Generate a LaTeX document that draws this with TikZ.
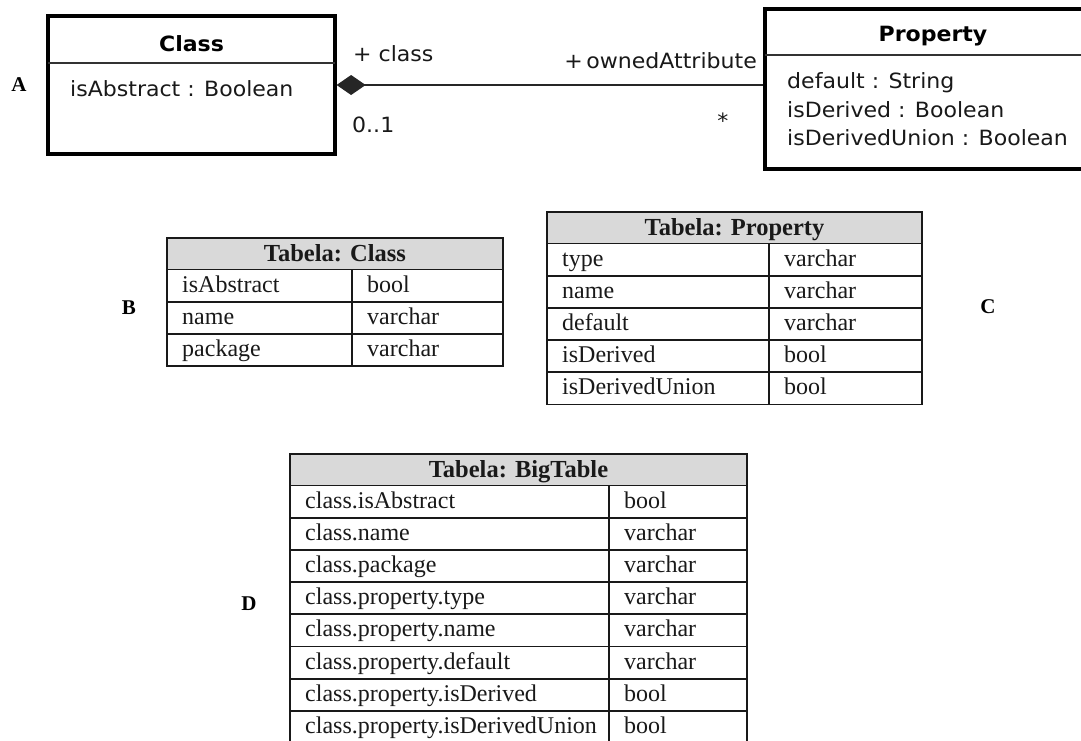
\documentclass[tikz,border=0pt]{standalone}
\usepackage{fontspec}
\setmainfont{Liberation Serif}
\newfontfamily\umlfont[FakeStretch=1.05]{DejaVu Sans}
\usetikzlibrary{arrows.meta}

% one database table: name, left, right, column x, top, number of rows, title, rows
\newcommand{\dbtable}[8]{%
  \pgfmathsetmacro\tbot{#5+31.5+#6*32.2}
  \fill[headfill] (#2,#5) rectangle (#3,#5+31.5);
  \node[hdr, anchor=base] (#1-title) at ({(#2+#3)/2}, #5+23) {#7};
  \foreach [count=\i] \a/\b in {#8} {
    \node[cell, anchor=base west] (#1-k\i) at (#2+15, {#5+31.5+(\i-1)*32.2+22.5}) {\a};
    \node[cell, anchor=base west] (#1-t\i) at (#4+15, {#5+31.5+(\i-1)*32.2+22.5}) {\b};
    \draw[grid] (#2, {#5+31.5+\i*32.2}) -- (#3, {#5+31.5+\i*32.2});
  }
  \draw[grid] (#2,#5+31.5) -- (#3,#5+31.5);
  \draw[grid] (#4,#5+31.5) -- (#4,\tbot);
  \draw[grid] (#2,#5) rectangle (#3,\tbot);
}

\begin{document}
\begin{tikzpicture}[x=1pt, y=-1pt,
  umlbox/.style={draw=black, line width=3.2pt, fill=white, inner sep=0pt},
  divider/.style={draw=black!80, line width=1.5pt},
  uml/.style={font=\umlfont\fontsize{21}{25}\selectfont, inner sep=0pt, text=black!90},
  umlbold/.style={font=\umlfont\bfseries\fontsize{21}{25}\selectfont, inner sep=0pt, text=black},
  assoc/.style={draw=black!85, line width=1.5pt},
  headfill/.style={fill=black!15},
  grid/.style={draw=black!90, line width=1.7pt},
  hdr/.style={font=\bfseries\fontsize{24.5}{28}\selectfont, inner sep=0pt, text=black!90},
  cell/.style={font=\fontsize{24}{28}\selectfont, inner sep=0pt, text=black!90},
  tag/.style={font=\bfseries\fontsize{21}{25}\selectfont, inner sep=0pt, text=black}]

\useasboundingbox (0,0) rectangle (1081,740);
\fill[white] (0,0) rectangle (1081,740);
\clip (0,0) rectangle (1081,740);

% ---- UML class diagram ----
\node[umlbox, minimum width=287pt, minimum height=138pt] (cls) at (191.5,85) {};
\draw[divider] (48,63) -- (335,63);
\node[umlbold, anchor=base] (cls-name) at (191.5,51) {Class};
\node[uml, anchor=base west] (cls-a1) at (70,96.5) {isAbstract : Boolean};

\node[umlbox, minimum width=336pt, minimum height=160pt] (prop) at (933,89) {};
\draw[divider] (765,55) -- (1101,55);
\node[umlbold, anchor=base] (prop-name) at (933,41) {Property};
\node[uml, anchor=base west] (prop-a1) at (787,88.5) {default : String};
\node[uml, anchor=base west] (prop-a2) at (787,117) {isDerived : Boolean};
\node[uml, anchor=base west] (prop-a3) at (787,145.5) {isDerivedUnion : Boolean};

% composition: Class owns Property
\draw[assoc, {Diamond[length=29pt, width=20pt]}-] (cls.east) -- (cls.east -| prop.west);
\node[uml, anchor=base west] (role-class) at (353,61.5) {+ class};
\node[uml, anchor=base west] (mult-class) at (352,132) {0..1};
\node[uml, anchor=base east] (role-attr) at (757,68) {+\,ownedAttribute};
\node[uml, anchor=base] (mult-attr) at (723,128) {*};

% ---- section tags ----
\node[tag] (tagA) at (19,85) {A};
\node[tag] (tagB) at (129,308) {B};
\node[tag] (tagC) at (988,307) {C};
\node[tag] (tagD) at (249,604) {D};

% ---- relational tables ----
\dbtable{tb}{167}{503}{352}{238}{3}{Tabela: Class}%
  {isAbstract/bool, name/varchar, package/varchar}
\dbtable{tc}{547}{922}{769}{212}{5}{Tabela: Property}%
  {type/varchar, name/varchar, default/varchar, isDerived/bool, isDerivedUnion/bool}
\dbtable{td}{290}{747}{609}{454}{8}{Tabela: BigTable}%
  {class.isAbstract/bool, class.name/varchar, class.package/varchar,
   class.property.type/varchar, class.property.name/varchar,
   class.property.default/varchar, class.property.isDerived/bool,
   class.property.isDerivedUnion/bool}
\end{tikzpicture}
\end{document}
